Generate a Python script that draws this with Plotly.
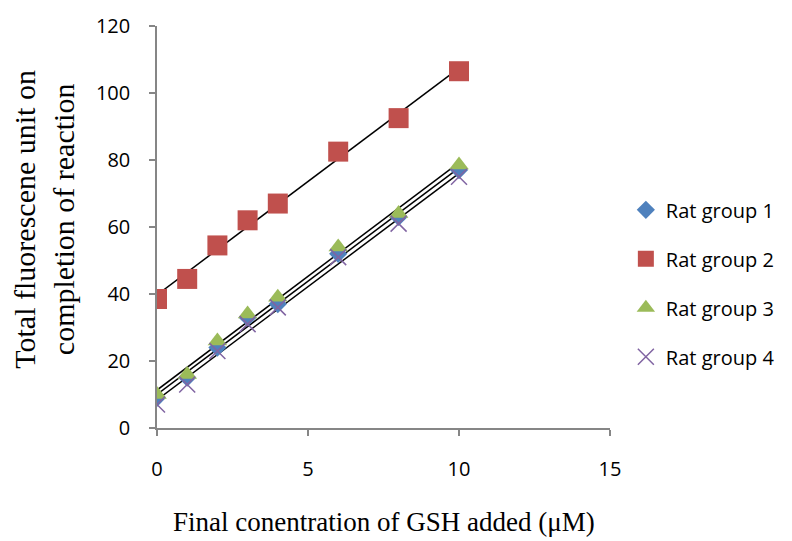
import numpy as np
import plotly.graph_objects as go

conc = [0, 1, 2, 3, 4, 6, 8, 10]
group1 = [9, 15, 24, 33, 37, 52, 63, 77]
group2 = [38.5, 44.5, 54.5, 62, 67, 82.5, 92.5, 106.5]
group3 = [10, 16, 26, 34, 39, 54, 64, 78.5]
group4 = [7, 13, 23, 31, 36, 51, 61, 75]
names = ["Rat group 1", "Rat group 2", "Rat group 3", "Rat group 4"]
series = [group1, group2, group3, group4]
colors = ["#4F81BD", "#C0504D", "#9BBB59", "#8064A2"]
symbols = ["diamond", "square", "triangle-up", "x-thin"]
sizes = [14, 20, 17, 16]

TICKFONT = dict(family="Open Sans, sans-serif", size=20, color="#000")
SERIF = "Liberation Serif, Times New Roman, serif"

fig = go.Figure()
x = np.array(conc, dtype=float)
for s in series:
    k, b = np.polyfit(x, np.array(s, dtype=float), 1)
    xs = np.array([x.min(), x.max()])
    fig.add_trace(go.Scatter(x=xs, y=k * xs + b, mode="lines",
                             line=dict(color="black", width=1.5),
                             showlegend=False, hoverinfo="skip"))
for i, (n, s) in enumerate(zip(names, series)):
    mk = dict(color=colors[i], size=sizes[i], symbol=symbols[i])
    if symbols[i] == "x-thin":
        mk["line"] = dict(color=colors[i], width=1.5)
    else:
        mk["line"] = dict(width=0)
    fig.add_trace(go.Scatter(x=conc, y=s, mode="markers", name=n, marker=mk,
                             legendgroup=n))

fig.update_layout(
    width=792, height=541,
    margin=dict(l=157, r=180, t=24, b=113),
    paper_bgcolor="white", plot_bgcolor="white",
    showlegend=True,
    legend=dict(x=1.035, y=0.36, xanchor="left", yanchor="middle",
                font=dict(family="Open Sans, sans-serif", size=20, color="#000"),
                tracegroupgap=20, itemsizing="trace", traceorder="grouped"),
    xaxis=dict(range=[0, 15], tickvals=[0, 5, 10, 15], showgrid=False, zeroline=False,
               showline=True, linecolor="#868686", linewidth=1.5,
               ticks="outside", ticklen=6, tickcolor="#868686", tickwidth=1.5,
               ticklabelstandoff=16, tickfont=TICKFONT),
    yaxis=dict(range=[0, 120], tickvals=[0, 20, 40, 60, 80, 100, 120], showgrid=False,
               zeroline=False, showline=True, linecolor="#868686", linewidth=1.5,
               ticks="outside", ticklen=6, tickcolor="#868686", tickwidth=1.5,
               ticklabelstandoff=15, tickfont=TICKFONT),
    annotations=[
        dict(text="Final conentration of GSH added (μM)", xref="paper", yref="paper",
             x=0.5, y=-0.233, xanchor="center", yanchor="middle", showarrow=False,
             font=dict(family=SERIF, size=27, color="#000")),
        dict(text="Total fluorescene unit on<br>completion of reaction", xref="paper", yref="paper",
             x=-0.25, y=0.52, xanchor="center", yanchor="middle", showarrow=False, textangle=-90,
             font=dict(family=SERIF, size=30, color="#000")),
    ],
)
fig.write_html("out.html")
